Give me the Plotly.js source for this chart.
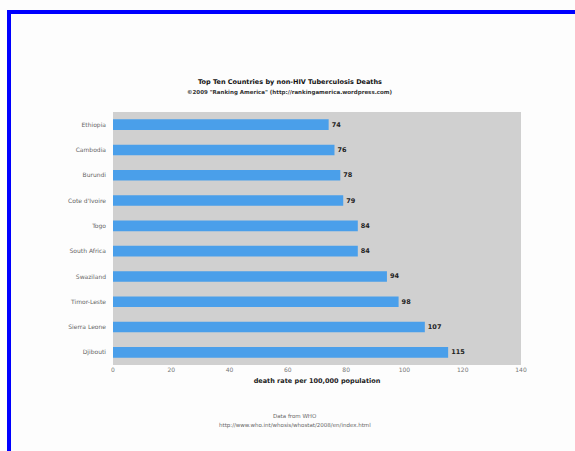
<!DOCTYPE html>
<html>
<head>
<meta charset="utf-8">
<script src="https://cdn.plot.ly/plotly-3.0.1.min.js"></script>
<style>
  html, body { margin: 0; padding: 0; background: #ffffff; }
  #wrap { position: relative; width: 575px; height: 451px; overflow: hidden; background: #fdfdfd; }
  #frame { position: absolute; left: 7px; top: 10px; width: 600px; height: 500px;
           border-top: 4px solid #0000ff; border-left: 4px solid #0000ff; pointer-events: none; z-index: 5; }
  #chart { position: absolute; left: 0; top: 0; width: 575px; height: 451px; }
</style>
</head>
<body>
<div id="wrap">
  <div id="chart"></div>
  <div id="frame"></div>
</div>
<script>
const countries = ["Ethiopia", "Cambodia", "Burundi", "Cote d'Ivoire", "Togo", "South Africa", "Swaziland", "Timor-Leste", "Sierra Leone", "Djibouti"];
const deathRates = [74, 76, 78, 79, 84, 84, 94, 98, 107, 115];
const xTicks = [0, 20, 40, 60, 80, 100, 120, 140];

const trace = {
  type: 'bar',
  orientation: 'h',
  y: countries,
  x: deathRates,
  text: deathRates.map(String),
  textposition: 'outside',
  cliponaxis: false,
  textfont: { family: 'DejaVu Sans', size: 6.5, color: '#222' },
  texttemplate: '<b>%{text}</b>',
  marker: { color: '#4a9fea', line: { width: 0 } },
  hoverinfo: 'none'
};

const layout = {
  width: 575, height: 451,
  margin: { l: 113, r: 54, t: 112, b: 86 },
  paper_bgcolor: 'rgba(0,0,0,0)',
  plot_bgcolor: '#d0d0d0',
  bargap: 0.58,
  showlegend: false,
  font: { family: 'DejaVu Sans', size: 6, color: '#666' },
  xaxis: {
    range: [0, 140],
    tickvals: xTicks,
    ticktext: xTicks.map(String),
    showgrid: false,
    zeroline: false,
    showline: false,
    ticks: '',
    ticklen: 0,
    tickfont: { family: 'DejaVu Sans', size: 6, color: '#777' },
    title: { text: '<b>death rate per 100,000 population</b>', font: { family: 'DejaVu Sans', size: 6.5, color: '#222' }, standoff: 6 }
  },
  yaxis: {
    categoryorder: 'array',
    categoryarray: countries,
    autorange: 'reversed',
    showgrid: false,
    zeroline: false,
    showline: false,
    ticks: '',
    ticklabelstandoff: 6,
    tickfont: { family: 'DejaVu Sans', size: 6, color: '#666' }
  },
  annotations: [
    { xref: 'paper', yref: 'paper', x: 0.435, y: 1, xanchor: 'center', yanchor: 'bottom', yshift: 24,
      text: '<b>Top Ten Countries by non-HIV Tuberculosis Deaths</b>', showarrow: false,
      font: { family: 'DejaVu Sans', size: 6.5, color: '#111' } },
    { xref: 'paper', yref: 'paper', x: 0.435, y: 1, xanchor: 'center', yanchor: 'bottom', yshift: 14,
      text: '<b>\u00a92009 "Ranking America" (http://rankingamerica.wordpress.com)</b>', showarrow: false,
      font: { family: 'DejaVu Sans', size: 5.5, color: '#333' } },
    { xref: 'paper', yref: 'paper', x: 0.447, y: 0, xanchor: 'center', yanchor: 'top', yshift: -46,
      text: 'Data from WHO', showarrow: false,
      font: { family: 'DejaVu Sans', size: 5.5, color: '#666' } },
    { xref: 'paper', yref: 'paper', x: 0.447, y: 0, xanchor: 'center', yanchor: 'top', yshift: -55,
      text: 'http://www.who.int/whosis/whostat/2008/en/index.html', showarrow: false,
      font: { family: 'DejaVu Sans', size: 5.5, color: '#666' } }
  ]
};

Plotly.newPlot('chart', [trace], layout, { staticPlot: true, displayModeBar: false });
</script>
</body>
</html>
